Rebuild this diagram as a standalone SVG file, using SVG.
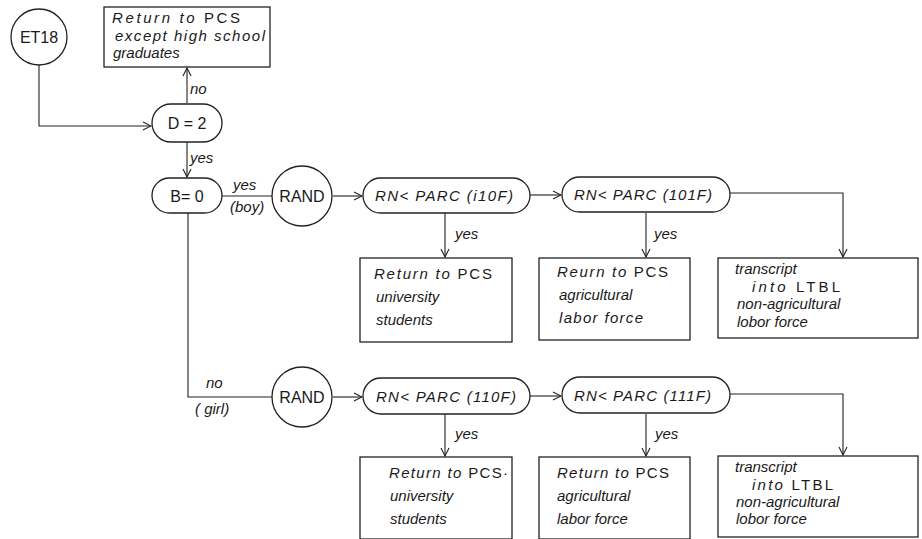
<svg xmlns="http://www.w3.org/2000/svg" width="922" height="539" viewBox="0 0 922 539">
<defs>
<marker id="arr" markerWidth="10" markerHeight="10" refX="9" refY="5" orient="auto" markerUnits="userSpaceOnUse">
<path d="M1,1 L9,5 L1,9" fill="none" stroke="#222" stroke-width="1.1"/>
</marker>
<style>
.s{fill:#fff;stroke:#222;stroke-width:1.3}
.c{fill:none;stroke:#222;stroke-width:1.1}
.t{font-family:"Liberation Sans",Arial,sans-serif;font-size:16px;fill:#1a1a1a}
.i{font-family:"Liberation Sans",Arial,sans-serif;font-size:15px;font-style:italic;fill:#1a1a1a}
.u{font-style:normal}
.m{text-anchor:middle}
</style>
</defs>
<rect width="922" height="539" fill="#fff"/>
<g id="connectors">
<path class="c" d="M39,65 V126 H151" marker-end="url(#arr)"/>
<path class="c" d="M187,103 V68" marker-end="url(#arr)"/>
<path class="c" d="M187,142 V177" marker-end="url(#arr)"/>
<path class="c" d="M222,196 H272"/>
<path class="c" d="M333,196 H362" marker-end="url(#arr)"/>
<path class="c" d="M530,195 H561" marker-end="url(#arr)"/>
<path class="c" d="M730,193 H843 V257" marker-end="url(#arr)"/>
<path class="c" d="M445,213 V257" marker-end="url(#arr)"/>
<path class="c" d="M646,213 V257" marker-end="url(#arr)"/>
<path class="c" d="M188,213 V397 H272"/>
<path class="c" d="M333,397 H362" marker-end="url(#arr)"/>
<path class="c" d="M530,396 H561" marker-end="url(#arr)"/>
<path class="c" d="M730,394 H843 V455" marker-end="url(#arr)"/>
<path class="c" d="M445,414 V456" marker-end="url(#arr)"/>
<path class="c" d="M646,414 V456" marker-end="url(#arr)"/>
<text class="i" x="190" y="94">no</text>
<text class="i" x="190" y="163">yes</text>
<text class="i" x="233" y="190">yes</text>
<text class="i" x="230" y="212">(boy)</text>
<text class="i" x="455" y="239">yes</text>
<text class="i" x="654" y="239">yes</text>
<text class="i" x="206" y="388">no</text>
<text class="i" x="195" y="414">( girl)</text>
<text class="i" x="455" y="439">yes</text>
<text class="i" x="655" y="439">yes</text>
</g>
<g id="et18"><circle class="s" cx="39" cy="37" r="28"/><text class="t m" x="39" y="43">ET18</text></g>
<g id="top-box"><rect class="s" x="104" y="7" width="166" height="60"/>
<text class="i" x="112" y="23" textLength="128" lengthAdjust="spacing">Return to  <tspan class="u">PCS</tspan></text>
<text class="i" x="115" y="41" textLength="150" lengthAdjust="spacing">except high school</text>
<text class="i" x="113" y="58">graduates</text></g>
<g id="d2"><rect class="s" x="152" y="104" width="70" height="38" rx="19"/><text class="t m" x="187" y="129">D = 2</text></g>
<g id="b0"><rect class="s" x="152" y="178" width="70" height="35" rx="17.5"/><text class="t m" x="187" y="202">B= 0</text></g>
<g id="rand1"><circle class="s" cx="302" cy="196" r="30"/><text class="t m" x="302" y="202">RAND</text></g>
<g id="p1"><rect class="s" x="363" y="178" width="167" height="35" rx="17.5"/><text class="i" x="375" y="201" textLength="138" lengthAdjust="spacing">RN&lt; PARC (i10F)</text></g>
<g id="p2"><rect class="s" x="562" y="177" width="168" height="35" rx="17.5"/><text class="i" x="574" y="200" textLength="138" lengthAdjust="spacing">RN&lt; PARC (101F)</text></g>
<g id="b1"><rect class="s" x="360" y="258" width="152" height="84"/>
<text class="i" x="374" y="279" textLength="118" lengthAdjust="spacing">Return to  <tspan class="u">PCS</tspan></text>
<text class="i" x="376" y="302">university</text>
<text class="i" x="376" y="325">students</text></g>
<g id="b2"><rect class="s" x="539" y="258" width="151" height="82"/>
<text class="i" x="557" y="277" textLength="111" lengthAdjust="spacing">Reurn to  <tspan class="u">PCS</tspan></text>
<text class="i" x="559" y="300">agricultural</text>
<text class="i" x="559" y="323" textLength="84" lengthAdjust="spacing">labor force</text></g>
<g id="b3"><rect class="s" x="718" y="258" width="200" height="80"/>
<text class="i" x="735" y="274">transcript</text>
<text class="i" x="752" y="292" textLength="88" lengthAdjust="spacing">into <tspan class="u">LTBL</tspan></text>
<text class="i" x="737" y="309">non-agricultural</text>
<text class="i" x="737" y="327">lobor force</text></g>
<g id="rand2"><circle class="s" cx="302" cy="397" r="30"/><text class="t m" x="302" y="403">RAND</text></g>
<g id="p3"><rect class="s" x="363" y="378" width="167" height="36" rx="18"/><text class="i" x="376" y="402" textLength="140" lengthAdjust="spacing">RN&lt; PARC (110F)</text></g>
<g id="p4"><rect class="s" x="562" y="377" width="168" height="36" rx="18"/><text class="i" x="574" y="401" textLength="137" lengthAdjust="spacing">RN&lt; PARC (111F)</text></g>
<g id="b4"><rect class="s" x="360" y="457" width="152" height="82"/>
<text class="i" x="389" y="478" textLength="119" lengthAdjust="spacing">Return to <tspan class="u">PCS·</tspan></text>
<text class="i" x="390" y="501">university</text>
<text class="i" x="390" y="524">students</text></g>
<g id="b5"><rect class="s" x="539" y="457" width="151" height="82"/>
<text class="i" x="557" y="478" textLength="112" lengthAdjust="spacing">Return to <tspan class="u">PCS</tspan></text>
<text class="i" x="557" y="501">agricultural</text>
<text class="i" x="557" y="524">labor force</text></g>
<g id="b6"><rect class="s" x="718" y="456" width="200" height="81"/>
<text class="i" x="735" y="472">transcript</text>
<text class="i" x="752" y="490" textLength="81" lengthAdjust="spacing">into  <tspan class="u">LTBL</tspan></text>
<text class="i" x="736" y="507">non-agricultural</text>
<text class="i" x="736" y="524">lobor force</text></g>
</svg>
